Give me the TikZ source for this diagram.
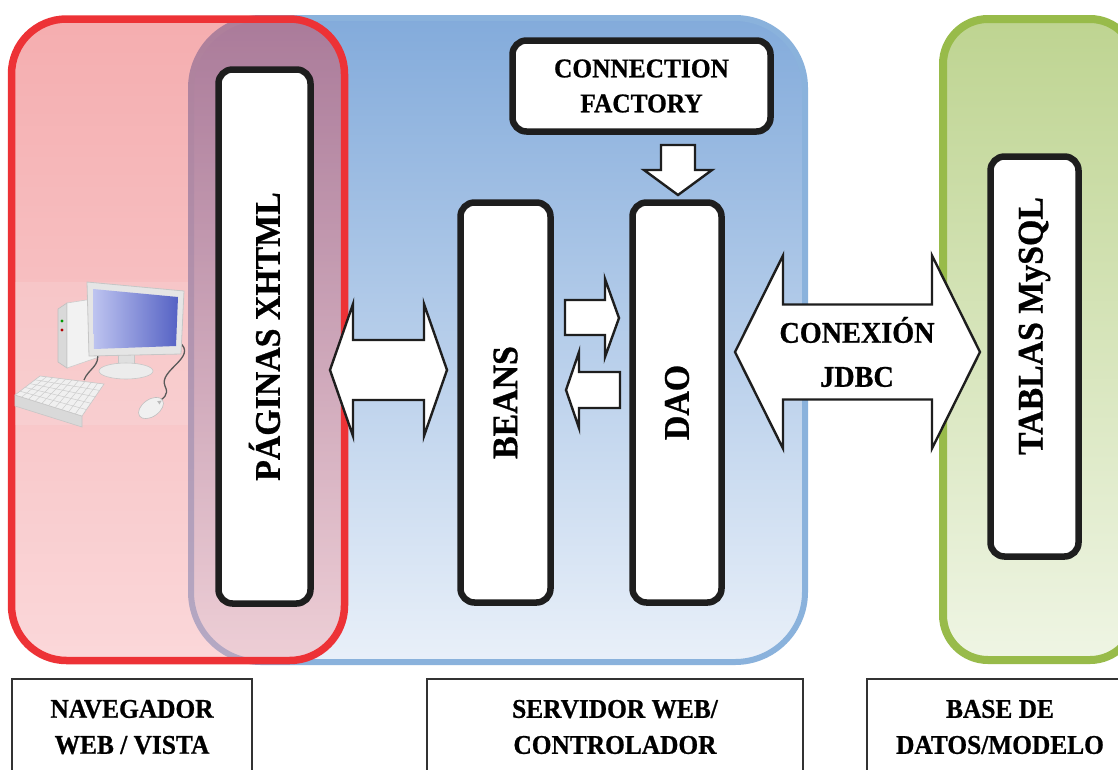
\documentclass[tikz,border=0pt]{standalone}
\usepackage{fontspec}
\setmainfont{Liberation Serif}[FakeStretch=0.94,BoldFeatures={FakeBold=0.8}]
\usetikzlibrary{calc}

\definecolor{rojo}{RGB}{237,50,54}
\definecolor{rosaA}{RGB}{230,52,57}
\definecolor{rosaB}{RGB}{245,157,162}
\definecolor{azul}{RGB}{138,178,220}
\definecolor{azulA}{RGB}{131,171,219}
\definecolor{azulB}{RGB}{233,240,249}
\definecolor{verde}{RGB}{152,187,74}
\definecolor{verdeA}{RGB}{190,212,145}
\definecolor{verdeB}{RGB}{239,245,228}
\definecolor{negro}{RGB}{30,30,30}
\definecolor{pantallaA}{RGB}{190,196,240}
\definecolor{pantallaB}{RGB}{85,98,196}

\begin{document}
\begin{tikzpicture}[x=1pt,y=-1pt,
  caja/.style={draw=negro,line width=6.5pt,fill=white,rounded corners=14pt,inner sep=0pt},
  flecha/.style={draw=negro,line width=2.4pt,fill=white,line join=miter},
  etiqueta/.style={draw=black!80,line width=1.8pt,fill=white,align=center,
    font=\fontsize{27}{36}\selectfont\bfseries},
  grande/.style={font=\fontsize{36}{40}\selectfont\bfseries},
  mediana/.style={font=\fontsize{27}{35}\selectfont\bfseries,align=center}]
  \newcommand{\flechadoble}[6]{% x1, x2, y, half shaft, half head, head length
    \draw[flecha] (#1,#3) -- (#1+#6,#3-#5) -- (#1+#6,#3-#4) -- (#2-#6,#3-#4)
      -- (#2-#6,#3-#5) -- (#2,#3) -- (#2-#6,#3+#5) -- (#2-#6,#3+#4)
      -- (#1+#6,#3+#4) -- (#1+#6,#3+#5) -- cycle;}
  \clip (0,0) rectangle (1118,769);
  \fill[white] (0,0) rectangle (1118,769);

  % capas
  \draw[draw=azul,line width=6pt,top color=azulA,bottom color=azulB,rounded corners=70pt]
    (191,18) rectangle (805,662);
  \draw[draw=verde,line width=8pt,top color=verdeA,bottom color=verdeB,rounded corners=45pt]
    (943,19) rectangle (1135,660);
  \draw[draw=rojo,line width=7.5pt,top color=rosaA,bottom color=rosaB,fill opacity=0.4,
    rounded corners=55pt] (11.5,19) rectangle (344.5,660.5);

  % equipo del cliente
  \fill[white,opacity=0.12] (15,282) rectangle (188,425);
  \filldraw[fill=gray!30,draw=gray!50,line width=0.6pt] (58,309) -- (67,303) -- (67,368) -- (58,362) -- cycle;
  \filldraw[fill=gray!10,draw=gray!40,line width=0.6pt] (67,303) -- (99,298) -- (99,357) -- (67,368) -- cycle;
  \fill[green!60!black] (62,321) circle (1.7);
  \fill[red!70!black] (62,330) circle (1.7);
  \draw[gray!70!black,line width=1.3pt] (97,352) .. controls (101,366) and (88,369) .. (84,380);
  \draw[gray!70!black,line width=1.3pt] (179,342) .. controls (199,357) and (158,370) .. (165,386)
    .. controls (170,396) and (162,398) .. (158,403);
  \filldraw[fill=gray!25,draw=gray!45,line width=0.6pt] (118,352) rectangle (134,366);
  \filldraw[fill=gray!15,draw=gray!45,line width=0.6pt] (126,371) ellipse [x radius=27, y radius=8];
  \filldraw[fill=gray!20,draw=gray!45,line width=0.8pt] (87,282) -- (184,291) -- (181,354) -- (89,356) -- cycle;
  \shade[left color=pantallaA,right color=pantallaB] (93,289) -- (178,297) -- (176,346) -- (94,349) -- cycle;
  \coordinate (k1) at (15,395);
  \coordinate (k2) at (40,376);
  \coordinate (k3) at (104,384);
  \coordinate (k4) at (82,416);
  \filldraw[fill=gray!30,draw=gray!45,line width=0.6pt] (k1) -- (k4) -- (82,427) -- (15,406) -- cycle;
  \filldraw[fill=gray!12,draw=gray!45,line width=0.6pt] (k1) -- (k2) -- (k3) -- (k4) -- cycle;
  \foreach \t in {0.2,0.4,0.6,0.8}
    \draw[gray!40,line width=0.5pt] ($(k1)!\t!(k2)$) -- ($(k4)!\t!(k3)$);
  \foreach \t in {0.1,0.2,...,0.9}
    \draw[gray!40,line width=0.5pt] ($(k1)!\t!(k4)$) -- ($(k2)!\t!(k3)$);
  \filldraw[fill=gray!12,draw=gray!50,line width=0.6pt,rotate around={35:(151,408)}]
    (151,408) ellipse [x radius=14, y radius=8.5];
  \fill[gray!55,rotate around={35:(151,408)}] (160,406) -- (164,408) -- (160,410) -- cycle;

  % bloques
  \node[caja,rotate=90,minimum width=534,minimum height=92,grande] (paginas) at (264.5,336.5) {PÁGINAS XHTML};
  \node[caja,rotate=90,minimum width=400,minimum height=90,grande] (beans) at (505.5,402.5) {BEANS};
  \node[caja,rotate=90,minimum width=400,minimum height=89,grande] (dao) at (677,402.5) {DAO};
  \node[caja,rotate=90,minimum width=400,minimum height=88] (tablas) at (1034.5,356.5) {};
  \node[rotate=90,grande] (tablastxt) at (1034.5,326) {TABLAS MySQL};
  \node[caja,minimum width=258,minimum height=91,mediana] (factory) at (641.5,86) {CONNECTION\\FACTORY};

  % flechas
  \flechadoble{330}{447}{370}{30}{66}{23}
  \flechadoble{735}{980}{352}{47.5}{96.5}{48}
  \node[font=\fontsize{30}{44}\selectfont\bfseries,align=center] (jdbc) at (857,352) {CONEXIÓN\\JDBC};
  \draw[flecha] (565,300) -- (605,300) -- (605,279) -- (619,318) -- (605,357) -- (605,335) -- (565,335) -- cycle;
  \draw[flecha] (620,372) -- (579,372) -- (579,352) -- (566,390) -- (579,428) -- (579,408) -- (620,408) -- cycle;
  \draw[flecha] (661,145) -- (695,145) -- (695,170) -- (712,170) -- (678,195) -- (644,170) -- (661,170) -- cycle;

  % rotulos
  \node[etiqueta,minimum width=240,minimum height=96] (vista) at (132,727) {NAVEGADOR\\WEB / VISTA};
  \node[etiqueta,minimum width=376,minimum height=96] (controlador) at (615,727) {SERVIDOR WEB/\\CONTROLADOR};
  \node[etiqueta,minimum width=266,minimum height=96] (modelo) at (1000,727) {BASE DE\\DATOS/MODELO};
\end{tikzpicture}
\end{document}
